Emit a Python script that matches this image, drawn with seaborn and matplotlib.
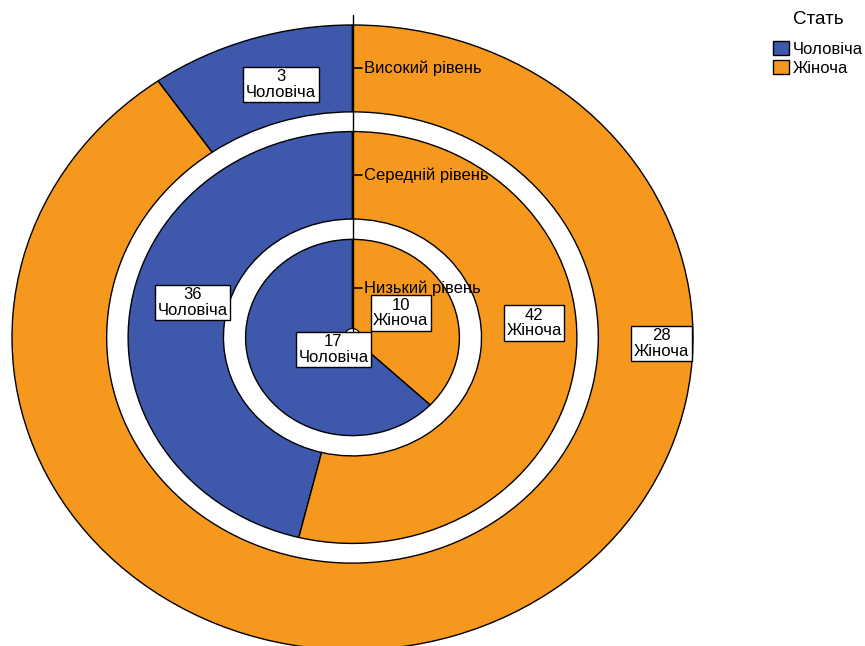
import matplotlib
matplotlib.use("Agg")
import matplotlib.pyplot as plt
from matplotlib.patches import Patch, Ellipse
import seaborn as sns

# ---- data ----
levels = ["Низький рівень", "Середній рівень", "Високий рівень"]  # inner -> outer
genders = ["Чоловіча", "Жіноча"]
male = [17, 36, 3]
female = [10, 42, 28]
legend_title = "Стать"

# label placements (data coords, per ring: [male, female])
label_pos = [
    [(-0.056, -0.038), (0.142, 0.078)],
    [(-0.470, 0.112), (0.533, 0.046)],
    [(-0.210, 0.810), (0.907, -0.019)],
]

sns.set_theme(style="white")
plt.rcParams["font.family"] = ["Liberation Sans", "DejaVu Sans"]
plt.rcParams["text.color"] = "black"

colors = sns.color_palette(["#3E58AB", "#F7981E"])

fig = plt.figure(figsize=(8.65, 6.46), dpi=100)
W, H = 865, 646
cx, cy = 352.5, 337.5
rx, ry = 340.5, 312.5
ax = fig.add_axes([(cx - rx) / W, (H - cy - ry) / H, 2 * rx / W, 2 * ry / H])

# rings: (outer radius, inner radius)
rings = [(0.314, 0.0), (0.659, 0.379), (1.0, 0.722)]

for i, (ro, ri) in enumerate(rings):
    vals = [male[i], female[i]]
    wp = dict(edgecolor="black", linewidth=1.0)
    if ri > 0:
        wp["width"] = ro - ri
    wedges, _ = ax.pie(vals, radius=ro, startangle=90, counterclock=True,
                       colors=colors, wedgeprops=wp)
    for w in wedges:
        w.set_clip_on(False)
    for j, v in enumerate(vals):
        x, y = label_pos[i][j]
        ax.text(x, y, f"{v}\n{genders[j]}", ha="center", va="center",
                fontsize=12, linespacing=1.05, zorder=10,
                bbox=dict(boxstyle="square,pad=0.15", fc="white", ec="black", lw=1.0))

ax.set_aspect("auto")
ax.set_xlim(-1, 1)
ax.set_ylim(-1, 1)
ax.axis("off")

# center axis line with ticks and level labels
ax.plot([0, 0], [0, 1.032], color="black", lw=1.0, zorder=6, clip_on=False)
for i, (ro, ri) in enumerate(rings):
    ym = (ro + ri) / 2
    ax.plot([0, 0.029], [ym, ym], color="black", lw=1.2, zorder=6, clip_on=False)
    ax.text(0.033, ym, levels[i], ha="left", va="center", fontsize=12, zorder=7)

ax.add_patch(Ellipse((0, 0.003), 2 * 8 / rx, 2 * 8 / ry, fc="white", ec="black",
                     lw=0.8, zorder=5))

fig.text(818 / W, 1 - 20 / H, legend_title, ha="center", va="center", fontsize=13.5)
handles = [Patch(facecolor=colors[k], edgecolor="black", lw=1.0, label=genders[k])
           for k in range(2)]
leg = fig.legend(handles=handles, loc="upper left",
                 bbox_to_anchor=(773 / W, 1 - 41 / H), frameon=False,
                 fontsize=12, handlelength=0.95, handleheight=0.9,
                 handletextpad=0.25, labelspacing=0.2,
                 borderpad=0, borderaxespad=0)

fig.savefig("out.png", dpi=100)
